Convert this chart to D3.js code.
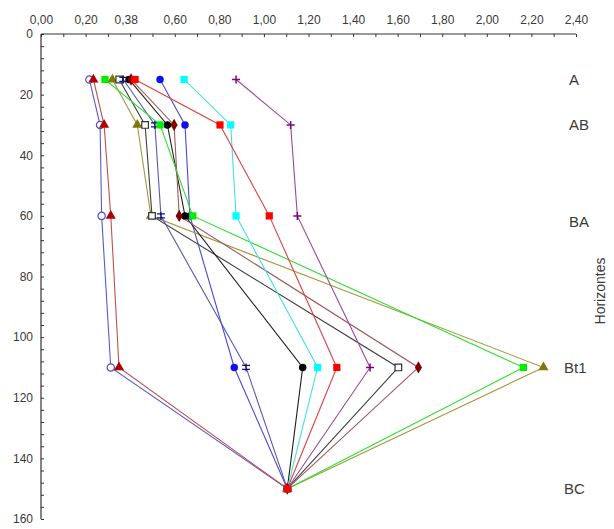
<!DOCTYPE html>
<html>
<head>
<meta charset="utf-8">
<script src="https://cdn.jsdelivr.net/npm/d3@7"></script>
<style>
  html, body { margin: 0; padding: 0; background: #fff; }
  svg { display: block; }
  text { font-family: "Liberation Sans", Arial, sans-serif; fill: #3a3a3a; }
</style>
</head>
<body>
<svg id="chart" width="614" height="529"></svg>
<script>
// ---- data ----
const depths = [15, 30, 60, 110, 150];
const horizonLabels = ["A", "AB", "BA", "Bt1", "BC"];
const xTickValues = [0, 0.2, 0.38, 0.6, 0.8, 1.0, 1.2, 1.4, 1.6, 1.8, 2.0, 2.2, 2.4];
const yTickValues = [0, 20, 40, 60, 80, 100, 120, 140, 160];

const sOpenCircle   = [0.217, 0.265, 0.272, 0.313, 1.105];
const sRedTriangle  = [0.235, 0.283, 0.313, 0.350, 1.105];
const sBlueCircle   = [0.534, 0.646, 0.668, 0.867, 1.105];
const sGreenSquare  = [0.287, 0.534, 0.681, 2.164, 1.105];
const sOliveTri     = [0.320, 0.432, 0.493, 2.254, 1.105];
const sOpenSquare   = [0.351, 0.467, 0.498, 1.603, 1.105];
const sBlueStar     = [0.369, 0.511, 0.538, 0.920, 1.105];
const sBlackCircle  = [0.395, 0.567, 0.646, 1.174, 1.105];
const sDarkDiamond  = [0.404, 0.597, 0.620, 1.693, 1.105];
const sCyanSquare   = [0.642, 0.851, 0.875, 1.241, 1.105];
const sPurplePlus   = [0.875, 1.120, 1.150, 1.476, 1.105];
const sRedSquare    = [0.422, 0.803, 1.024, 1.327, 1.105];

const series = [
  { values: sOpenCircle,  marker: "openCircle",  line: "#5a5ad0", color: "#4b4bd6" },
  { values: sRedTriangle, marker: "triangle",    line: "#c0504d", color: "#b00000" },
  { values: sBlueCircle,  marker: "circle",      line: "#4a4ad8", color: "#1010ee" },
  { values: sOliveTri,    marker: "triangle",    line: "#a09a40", color: "#807800" },
  { values: sOpenSquare,  marker: "openSquare",  line: "#404040", color: "#303030" },
  { values: sBlueStar,    marker: "asterisk",    line: "#5a5ab0", color: "#10107a" },
  { values: sBlackCircle, marker: "circle",      line: "#202020", color: "#000000" },
  { values: sDarkDiamond, marker: "diamond",     line: "#a05a5a", color: "#800000" },
  { values: sGreenSquare, marker: "square",      line: "#33dd33", color: "#00ee00" },
  { values: sCyanSquare,  marker: "square",      line: "#44e0e0", color: "#00ffff" },
  { values: sPurplePlus,  marker: "plus",        line: "#9a4a9a", color: "#800080" },
  { values: sRedSquare,   marker: "square",      line: "#e04040", color: "#ff0000" }
];

// ---- layout ----
const svg = d3.select("#chart");
const x = d3.scaleLinear().domain([0, 2.4]).range([41, 576]);
const y = d3.scaleLinear().domain([0, 160]).range([34, 519]);
const fmt = d => d.toFixed(2).replace(".", ",");

// axis labels (top)
svg.append("g").attr("transform", `translate(0,${y(0)})`)
  .call(d3.axisTop(x).tickValues(xTickValues).tickFormat(fmt).tickSize(0).tickPadding(10))
  .call(g => g.select(".domain").remove())
  .call(g => g.selectAll("text").attr("font-size", 12).attr("fill", "#3a3a3a")
    .style("font-family", '"Liberation Sans", Arial, sans-serif'));
// minor tick marks (top)
svg.append("g").attr("transform", `translate(0,${y(0)})`)
  .call(d3.axisTop(x).tickValues(d3.range(0, 25).map(i => i / 10)).tickFormat("").tickSize(-3).tickSizeOuter(0))
  .call(g => g.select(".domain").remove())
  .call(g => g.selectAll("line").attr("stroke", "#333"));

// left axis labels
svg.append("g").attr("transform", `translate(${x(0)},0)`)
  .call(d3.axisLeft(y).tickValues(yTickValues).tickFormat(d3.format("d")).tickSize(0).tickPadding(8))
  .call(g => g.select(".domain").remove())
  .call(g => g.selectAll("text").attr("font-size", 12).attr("fill", "#3a3a3a")
    .style("font-family", '"Liberation Sans", Arial, sans-serif'));
svg.append("g").attr("transform", `translate(${x(0)},0)`)
  .call(d3.axisLeft(y).tickValues(d3.range(0, 41).map(i => i * 4)).tickFormat("").tickSize(-3))
  .call(g => g.select(".domain").remove())
  .call(g => g.selectAll("line").attr("stroke", "#333"));

// axis lines
svg.append("line").attr("x1", x(0)).attr("x2", x(2.4)).attr("y1", y(0)).attr("y2", y(0))
  .attr("stroke", "#333").attr("stroke-width", 1.2);
svg.append("line").attr("x1", x(0)).attr("x2", x(0)).attr("y1", y(0)).attr("y2", y(160))
  .attr("stroke", "#333").attr("stroke-width", 1.2);

// lines
const lineGen = d3.line().x(d => x(d[0])).y(d => y(d[1]));
series.forEach(s => {
  const pts = s.values.map((v, i) => [v, depths[i]]);
  svg.append("path").datum(pts).attr("d", lineGen)
    .attr("fill", "none").attr("stroke", s.line).attr("stroke-width", 1.1);
});

// markers
const symMap = {
  openCircle: { type: d3.symbolCircle, size: 42, fill: "#fff", stroke: true },
  circle:     { type: d3.symbolCircle, size: 44, fill: null, stroke: false },
  triangle:   { type: d3.symbolTriangle, size: 44, fill: null, stroke: false },
  square:     { type: d3.symbolSquare, size: 52, fill: null, stroke: false },
  openSquare: { type: d3.symbolSquare, size: 44, fill: "#fff", stroke: true },
  diamond:    { type: d3.symbolDiamond, size: 44, fill: null, stroke: false },
  asterisk:   { type: d3.symbolAsterisk, size: 45, fill: "none", stroke: true },
  plus:       { type: d3.symbolPlus, size: 45, fill: "none", stroke: true }
};
series.forEach(s => {
  const m = symMap[s.marker];
  s.values.forEach((v, i) => {
    const p = svg.append("path")
      .attr("d", d3.symbol().type(m.type).size(m.size)())
      .attr("transform", `translate(${x(v)},${y(depths[i])})`);
    if (s.marker === "plus") {
      p.attr("d", "M-4,0H4M0,-4V4").attr("fill", "none").attr("stroke", s.color).attr("stroke-width", 1.5);
    } else if (s.marker === "asterisk") {
      p.attr("d", "M-4,-2H4M-4,2H4M0,-4V4").attr("fill", "none").attr("stroke", s.color).attr("stroke-width", 1.3);
    } else if (m.stroke) {
      p.attr("fill", m.fill).attr("stroke", s.color).attr("stroke-width", 1.2);
    } else {
      p.attr("fill", s.color);
    }
  });
});

// horizon labels
svg.append("g").selectAll("text").data(horizonLabels).join("text")
  .attr("x", (d, i) => i < 3 ? 569 : 564)
  .attr("y", (d, i) => y(depths[i]) + (i === 2 ? 6 : 0))
  .attr("dy", "0.35em")
  .attr("font-size", 15)
  .attr("fill", "#444")
  .text(d => d);

svg.append("text")
  .attr("transform", "translate(605,291) rotate(-90)")
  .attr("text-anchor", "middle")
  .attr("font-size", 14)
  .attr("fill", "#333")
  .text("Horizontes");
</script>
</body>
</html>
